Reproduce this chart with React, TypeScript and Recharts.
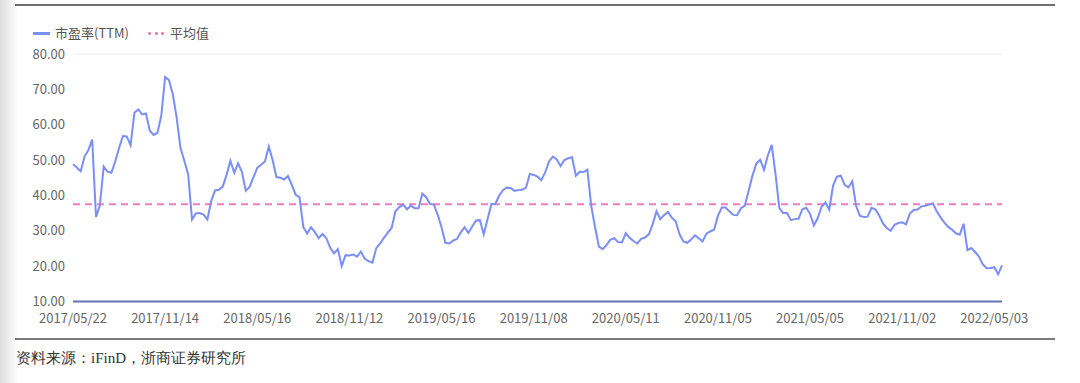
import React from "react";
import { LineChart, Line, XAxis, YAxis, CartesianGrid } from "recharts";

// 市盈率(TTM), sampled about weekly (every ~5 trading days) from 2017/05/22 to 2022/05
const peValues: number[] = [
  48.8, 47.9, 46.8, 51, 52.8, 55.8, 33.9, 37.2, 48.2, 46.7,
  46.4, 49.6, 53.4, 56.8, 56.7, 54.2, 63.4, 64.3, 62.9, 63.2,
  58.3, 57.1, 57.7, 62.6, 73.5, 72.6, 68.6, 62, 53.4, 49.8,
  46, 33.2, 34.9, 35, 34.6, 33.2, 38.4, 41.4, 41.6, 42.5,
  45.8, 49.8, 46.4, 49.1, 46.7, 41.3, 42.4, 45.1, 47.8, 48.7,
  49.6, 53.8, 50, 45.2, 45, 44.5, 45.5, 43, 40.2, 39.5,
  31,
  29.2, 31, 29.6, 27.9, 29.1, 27.9, 25.2, 23.6, 24.8, 20,
  23.1, 23, 23.3, 22.7, 24.1, 22.1, 21.4, 21, 25.1, 26.4,
  28, 29.5, 30.8, 35.5, 36.7, 37.4, 36.1, 37.1, 36.4, 36.4,
  40.5, 39.5, 37.6, 37.4, 34.6, 31, 26.6, 26.4, 27.2, 27.7,
  29.5, 31, 29.4, 31.2, 32.9, 33, 29, 33.3, 37.6, 37.6,
  39.9, 41.5, 42.2, 42.1, 41.3, 41.5, 41.6, 42.2, 46.1, 45.8,
  45.3, 44.3, 46.5, 49.6, 51, 50.2, 48.3, 50, 50.5, 50.8,
  45.6, 46.7, 46.6, 47.3, 37, 31, 25.5, 24.8, 26, 27.5,
  27.9, 26.8, 26.7, 29.3, 28, 27.1, 26.4, 27.7, 28.1, 29,
  31.9, 35.5, 33.3, 34.5, 35.3, 33.7, 32.7, 29, 27, 26.6,
  27.5, 28.7, 27.9, 27, 29.2, 29.8, 30.3, 34.2, 36.6, 36.6,
  35.5, 34.5, 34.4, 36.4, 37.1, 41.3, 45.6, 49, 50.1, 47.2,
  51.3, 54.3, 46, 36.4, 35, 35, 33, 33.3, 33.4, 36.1,
  36.5, 34.8, 31.5, 33.6, 36.8, 38, 36, 42.8, 45.3, 45.6,
  43, 42.3, 44, 37, 34.2, 33.9, 34, 36.5, 36.1, 34.3,
  32.1, 30.8, 30, 31.7, 32.2, 32.4, 31.8, 34.9, 35.9, 36,
  36.9, 37.1, 37.4, 37.8, 35.5, 33.8, 32.3, 31.1, 30.3, 29.3,
  28.9, 32, 24.5, 25.1, 24, 22.7, 20.5, 19.4, 19.5, 19.7, 17.7, 20.2,
];

const meanValue = 37.5;

const tickLabels: string[] = [
  "2017/05/22", "2017/11/14", "2018/05/16", "2018/11/12", "2019/05/16",
  "2019/11/08", "2020/05/11", "2020/11/05", "2021/05/05", "2021/11/02", "2022/05/03",
];
const tickIndex: number[] = [0, 24, 48, 72, 96, 120, 144, 168, 192, 216, 240];
const yTicks: number[] = [10, 20, 30, 40, 50, 60, 70, 80];

const data = peValues.map((v, i) => ({ i, pe: v, avg: meanValue }));

const LINE_COLOR = "#7a8ef6";
const AVG_COLOR = "#f07cc0";
const TICK_FONT = '"Noto Sans CJK SC", "Noto Sans", sans-serif';

export default function App() {
  const labelFor = (v: number) => {
    const k = tickIndex.indexOf(v);
    return k >= 0 ? tickLabels[k] : "";
  };
  return (
    <div
      style={{
        position: "absolute",
        left: 0,
        top: 0,
        width: 1080,
        height: 383,
        background: "#ffffff",
        overflow: "hidden",
        fontFamily: TICK_FONT,
      }}
    >
      <div
        style={{
          position: "absolute",
          left: 0,
          top: 0,
          width: 18,
          height: 383,
          background: "linear-gradient(to right, #dcdcdc, rgba(255,255,255,0))",
        }}
      />
      <div style={{ position: "absolute", left: 15, top: 4, width: 1040, height: 2, background: "#6e6e6e" }} />
      <div style={{ position: "absolute", left: 15, top: 338, width: 1040, height: 2, background: "#7a7a7a" }} />

      {/* legend */}
      <div style={{ position: "absolute", left: 33, top: 32, width: 17, height: 3, background: LINE_COLOR }} />
      <div style={{ position: "absolute", left: 55, top: 24, fontSize: 13, color: "#555", lineHeight: "18px", whiteSpace: "nowrap" }}>
        市盈率(TTM)
      </div>
      {[0, 1, 2].map((k) => (
        <div
          key={k}
          style={{ position: "absolute", left: 148 + k * 6.5, top: 32, width: 3, height: 3, background: AVG_COLOR, borderRadius: 1 }}
        />
      ))}
      <div style={{ position: "absolute", left: 170, top: 24, fontSize: 13, color: "#555", lineHeight: "18px", whiteSpace: "nowrap" }}>
        平均值
      </div>

      <div style={{ position: "absolute", left: 0, top: 0 }}>
        <LineChart
          width={1080}
          height={340}
          data={data}
          margin={{ top: 54, right: 18, bottom: 8.5, left: 13 }}
        >
          <CartesianGrid horizontal={true} vertical={false} stroke="#eaecf4" strokeWidth={1} />
          <XAxis
            dataKey="i"
            type="number"
            domain={[0, peValues.length - 1]}
            ticks={tickIndex}
            tickFormatter={labelFor}
            interval={0}
            height={30}
            tickLine={false}
            tickMargin={6}
            axisLine={{ stroke: "#6571b6", strokeWidth: 2 }}
            tick={{ fontSize: 13, fill: "#666", fontFamily: TICK_FONT }}
          />
          <YAxis
            yAxisId="left"
            domain={[10, 80]}
            ticks={yTicks}
            tickFormatter={(v: number) => v.toFixed(2)}
            width={60}
            axisLine={false}
            tickLine={false}
            tick={{ fontSize: 13, fill: "#666", fontFamily: TICK_FONT }}
          />
          <YAxis
            yAxisId="right"
            orientation="right"
            domain={[10, 80]}
            ticks={yTicks}
            tickFormatter={(v: number) => v.toFixed(2)}
            width={60}
            axisLine={false}
            tickLine={false}
            tick={{ fontSize: 13, fill: "#666", fontFamily: TICK_FONT }}
          />
          <Line
            yAxisId="left"
            type="linear"
            dataKey="avg"
            stroke={AVG_COLOR}
            strokeWidth={2}
            strokeDasharray="7 5"
            dot={false}
            activeDot={false}
            isAnimationActive={false}
          />
          <Line
            yAxisId="left"
            type="linear"
            dataKey="pe"
            stroke={LINE_COLOR}
            strokeWidth={2}
            dot={false}
            activeDot={false}
            isAnimationActive={false}
          />
        </LineChart>
      </div>

      <div
        style={{
          position: "absolute",
          left: 16,
          top: 348,
          fontSize: 15,
          color: "#333",
          fontFamily: "serif",
          whiteSpace: "nowrap",
          lineHeight: "20px",
        }}
      >
        资料来源：iFinD，浙商证券研究所
      </div>
    </div>
  );
}
